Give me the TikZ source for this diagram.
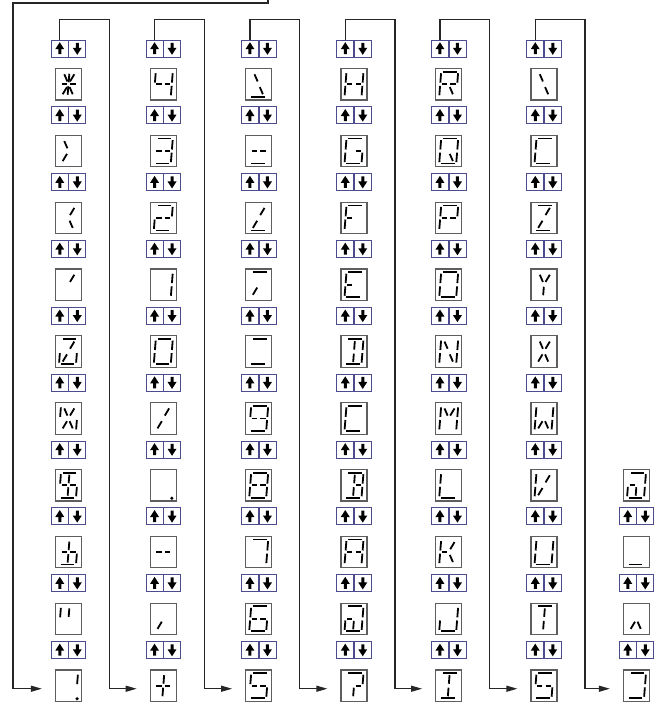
\documentclass[tikz,border=0pt]{standalone}
\usetikzlibrary{arrows.meta}

\definecolor{lcdgray}{HTML}{5E5E5E}
\definecolor{keyblue}{HTML}{4B4B8E}

% segment ends of one character cell (y down, pt)
\def\sega{(-6.8,-12.5) -- (6.8,-12.5)}
\def\segb{(8.5,-11) -- (8.5,-1.6)}
\def\segc{(8.5,1.6) -- (8.5,11)}
\def\segd{(-6.8,12.5) -- (6.8,12.5)}
\def\sege{(-8.5,1.6) -- (-8.5,11)}
\def\segf{(-8.5,-11) -- (-8.5,-1.6)}
\expandafter\def\csname segg1\endcsname{(-7,0) -- (-1.6,0)}
\expandafter\def\csname segg2\endcsname{(1.6,0) -- (7,0)}
\def\segh{(-5,-10) -- (-1.3,-2.8)}
\def\segi{(0,-10.5) -- (0,-2)}
\def\segj{(5,-10) -- (1.3,-2.8)}
\def\segk{(-5,10) -- (-1.3,2.8)}
\def\segl{(0,2) -- (0,10.5)}
\def\segm{(5,10) -- (1.3,2.8)}
\def\segdp{(9.6,13) circle[radius=0.5]}

\newcommand{\lcdchar}[2]{%
  \begin{scope}[shift={(#1.center)},xslant=0.08]
    \foreach \s in {#2}{%
      \edef\segcmd{\noexpand\draw[seg] \csname seg\s\endcsname;}\segcmd}
  \end{scope}}

\tikzset{
  lcd/.style={draw=lcdgray, line width=1.2pt, fill=white, inner sep=0pt,
    minimum width=26pt, minimum height=31.5pt},
  key/.style={draw=keyblue, line width=0.9pt, fill=white, inner sep=0pt,
    minimum size=17pt},
  keyup/.style={key, path picture={\fill[black] (path picture bounding box.center)
    ++(0,-6.3) -- ++(4.5,7) -- ++(-3,0) -- ++(0,5) -- ++(-3,0) -- ++(0,-5)
    -- ++(-3,0) -- cycle;}},
  keydn/.style={key, path picture={\fill[black] (path picture bounding box.center)
    ++(0,6.3) -- ++(4.5,-7) -- ++(-3,0) -- ++(0,-5) -- ++(-3,0) -- ++(0,5)
    -- ++(-3,0) -- cycle;}},
  seg/.style={line width=1.8pt, black},
  wire/.style={line width=1.2pt, draw=black!85},
  flow/.style={wire, -{Triangle[length=11pt,width=6pt]}, shorten >=13pt},
}

\begin{document}
\begin{tikzpicture}[x=1pt, y=-1pt]
  \useasboundingbox (0,0) rectangle (662,702);

  % six full columns
  \foreach \c/\x in {1/68.5,2/163.3,3/258.7,4/354,5/448.7,6/544}{
    \foreach \k [evaluate=\k as \yk using 48.5+66.83*\k] in {0,...,9}{
      \node[keyup] (up-\c-\k) at (\x-8.75,\yk) {};
      \node[keydn] (dn-\c-\k) at (\x+8.75,\yk) {};
      \node[lcd] (bx-\c-\k) at (\x,\yk+35.75) {};
    }
    \coordinate (turn-\c) at (\x+41,19.5);
  }
  % short last column
  \foreach \k [evaluate=\k as \yk using 48.5+66.83*\k] in {6,...,9}{
    \node[lcd] (bx-7-\k) at (636.5,\yk+35.75) {};
  }
  \foreach \k [evaluate=\k as \yk using 48.5+66.83*\k] in {7,8,9}{
    \node[keyup] (up-7-\k) at (636.5-8.75,\yk) {};
    \node[keydn] (dn-7-\k) at (636.5+8.75,\yk) {};
  }

  % wiring
  \coordinate (wrap-in) at (268,0);
  \coordinate (wrap-left) at (13,3);
  \draw[flow] (wrap-in) |- (wrap-left) |- ([yshift=-3pt]bx-1-9.west);
  \foreach \c/\n in {1/2,2/3,3/4,4/5,5/6,6/7}
    \draw[flow] (up-\c-0.north) |- (turn-\c) |- ([yshift=-3pt]bx-\n-9.west);

  % column 1
  \lcdchar{bx-1-0}{g1,g2,h,i,j,k,l,m}
  \lcdchar{bx-1-1}{h,k}
  \lcdchar{bx-1-2}{j,m}
  \lcdchar{bx-1-3}{j}
  \lcdchar{bx-1-4}{a,j,k,e,d,c}
  \lcdchar{bx-1-5}{f,h,j,k,m,c}
  \lcdchar{bx-1-6}{a,f,g1,g2,c,d,i,l}
  \lcdchar{bx-1-7}{i,l,g1,g2,c,d}
  \lcdchar{bx-1-8}{f,i}
  \lcdchar{bx-1-9}{b,dp}
  % column 2
  \lcdchar{bx-2-0}{f,g1,g2,b,c}
  \lcdchar{bx-2-1}{a,b,g1,g2,c,d}
  \lcdchar{bx-2-2}{a,b,g1,g2,e,d}
  \lcdchar{bx-2-3}{b,c}
  \lcdchar{bx-2-4}{a,b,c,d,e,f}
  \lcdchar{bx-2-5}{j,k}
  \lcdchar{bx-2-6}{dp}
  \lcdchar{bx-2-7}{g1,g2}
  \lcdchar{bx-2-8}{k}
  \lcdchar{bx-2-9}{g1,g2,i,l}
  % column 3
  \lcdchar{bx-3-0}{h,m,d}
  \lcdchar{bx-3-1}{g1,g2,d}
  \lcdchar{bx-3-2}{j,k,d}
  \lcdchar{bx-3-3}{a,k}
  \lcdchar{bx-3-4}{a,d}
  \lcdchar{bx-3-5}{a,f,g1,g2,b,c,d}
  \lcdchar{bx-3-6}{a,b,c,d,e,f,g1,g2}
  \lcdchar{bx-3-7}{a,b,c}
  \lcdchar{bx-3-8}{a,f,e,d,c,g1,g2}
  \lcdchar{bx-3-9}{a,f,g1,g2,c,d}
  % column 4
  \lcdchar{bx-4-0}{f,e,b,c,g1,g2}
  \lcdchar{bx-4-1}{a,f,e,d,c,g2}
  \lcdchar{bx-4-2}{a,f,e,g1}
  \lcdchar{bx-4-3}{a,f,e,d,g1}
  \lcdchar{bx-4-4}{a,b,c,d,i,l}
  \lcdchar{bx-4-5}{a,f,e,d}
  \lcdchar{bx-4-6}{a,b,c,d,g2,i,l}
  \lcdchar{bx-4-7}{a,b,c,e,f,g1,g2}
  \lcdchar{bx-4-8}{a,b,c,d,e,g1,l}
  \lcdchar{bx-4-9}{a,b,g2,l}
  % column 5
  \lcdchar{bx-5-0}{a,b,f,e,g1,g2,m}
  \lcdchar{bx-5-1}{a,b,c,d,e,f,m}
  \lcdchar{bx-5-2}{a,b,f,e,g1,g2}
  \lcdchar{bx-5-3}{a,b,c,d,e,f}
  \lcdchar{bx-5-4}{f,e,h,m,b,c}
  \lcdchar{bx-5-5}{f,e,h,j,b,c}
  \lcdchar{bx-5-6}{f,e,d}
  \lcdchar{bx-5-7}{f,e,g1,j,m}
  \lcdchar{bx-5-8}{b,c,d,e}
  \lcdchar{bx-5-9}{a,d,i,l}
  % column 6
  \lcdchar{bx-6-0}{h,m}
  \lcdchar{bx-6-1}{a,f,e,d}
  \lcdchar{bx-6-2}{a,j,k,d}
  \lcdchar{bx-6-3}{h,j,l}
  \lcdchar{bx-6-4}{h,j,k,m}
  \lcdchar{bx-6-5}{f,e,k,m,b,c}
  \lcdchar{bx-6-6}{f,e,k,j}
  \lcdchar{bx-6-7}{f,e,d,b,c}
  \lcdchar{bx-6-8}{a,i,l}
  \lcdchar{bx-6-9}{a,f,g1,g2,c,d}
  % column 7
  \lcdchar{bx-7-6}{a,b,c,d,e,g1,l}
  \lcdchar{bx-7-7}{d}
  \lcdchar{bx-7-8}{k,m}
  \lcdchar{bx-7-9}{a,b,c,d}
\end{tikzpicture}
\end{document}
